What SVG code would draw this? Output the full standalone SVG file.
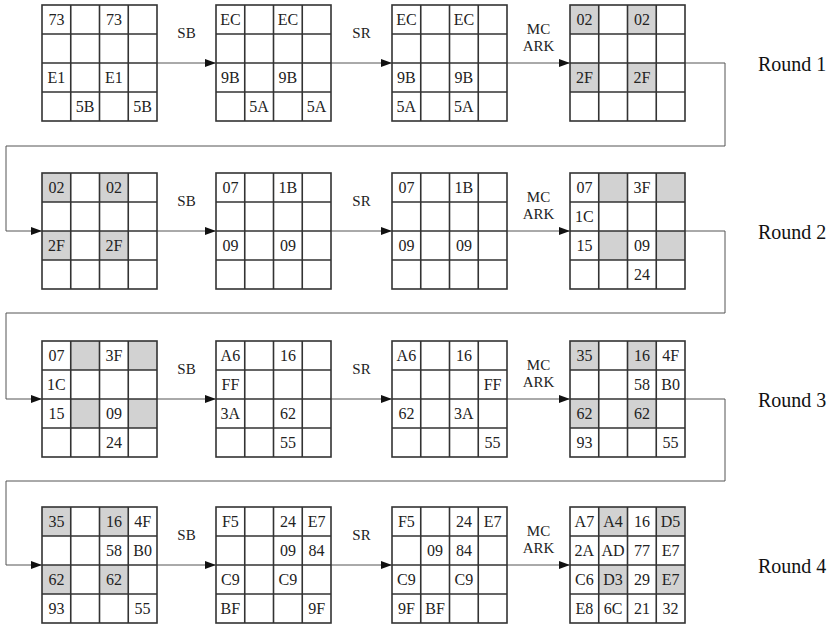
<svg xmlns="http://www.w3.org/2000/svg" xmlns:xlink="http://www.w3.org/1999/xlink" width="832" height="625" viewBox="0 0 832 625" font-family="'Liberation Serif', 'DejaVu Serif', serif">
<style>
text{font-family:'Liberation Serif','DejaVu Serif',serif}
.c{font-size:16px;fill:#222;text-anchor:middle}
.lbl{font-size:15px;fill:#222;text-anchor:middle}
.rnd{font-size:20px;fill:#111}
.g{fill:#d2d2d2}
.ln{fill:none;stroke:#555;stroke-width:1}
</style>
<defs>
<marker id="ah" markerWidth="11" markerHeight="8" refX="11" refY="4" orient="auto" markerUnits="userSpaceOnUse">
<path d="M0,0 L11,4 L0,8 Z" fill="#111"/>
</marker>
<g id="grid" fill="none" stroke="#333" stroke-width="1.6">
<rect x="0" y="0" width="115" height="116"/>
<path d="M28.75,0V116M57.5,0V116M86.25,0V116M0,29H115M0,58H115M0,87H115"/>
</g>
</defs>
<rect width="832" height="625" fill="#fff"/>

<g id="connectors">
<line class="ln" x1="157" y1="63" x2="216" y2="63" marker-end="url(#ah)"/>
<line class="ln" x1="331" y1="63" x2="392" y2="63" marker-end="url(#ah)"/>
<line class="ln" x1="507" y1="63" x2="570" y2="63" marker-end="url(#ah)"/>
<path class="ln" d="M685,63H725V146H6V231H42" marker-end="url(#ah)"/>
<line class="ln" x1="157" y1="231" x2="216" y2="231" marker-end="url(#ah)"/>
<line class="ln" x1="331" y1="231" x2="392" y2="231" marker-end="url(#ah)"/>
<line class="ln" x1="507" y1="231" x2="570" y2="231" marker-end="url(#ah)"/>
<path class="ln" d="M685,231H725V313H6V399H42" marker-end="url(#ah)"/>
<line class="ln" x1="157" y1="399" x2="216" y2="399" marker-end="url(#ah)"/>
<line class="ln" x1="331" y1="399" x2="392" y2="399" marker-end="url(#ah)"/>
<line class="ln" x1="507" y1="399" x2="570" y2="399" marker-end="url(#ah)"/>
<path class="ln" d="M685,399H725V481H6V565H42" marker-end="url(#ah)"/>
<line class="ln" x1="157" y1="565" x2="216" y2="565" marker-end="url(#ah)"/>
<line class="ln" x1="331" y1="565" x2="392" y2="565" marker-end="url(#ah)"/>
<line class="ln" x1="507" y1="565" x2="570" y2="565" marker-end="url(#ah)"/>
</g>

<g id="labels">
<text class="lbl" x="186.5" y="38">SB</text>
<text class="lbl" x="361.5" y="38">SR</text>
<text class="lbl" x="538.5" y="34">MC</text>
<text class="lbl" x="538.5" y="51">ARK</text>
<text class="lbl" x="186.5" y="206">SB</text>
<text class="lbl" x="361.5" y="206">SR</text>
<text class="lbl" x="538.5" y="202">MC</text>
<text class="lbl" x="538.5" y="219">ARK</text>
<text class="lbl" x="186.5" y="374">SB</text>
<text class="lbl" x="361.5" y="374">SR</text>
<text class="lbl" x="538.5" y="370">MC</text>
<text class="lbl" x="538.5" y="387">ARK</text>
<text class="lbl" x="186.5" y="540">SB</text>
<text class="lbl" x="361.5" y="540">SR</text>
<text class="lbl" x="538.5" y="536">MC</text>
<text class="lbl" x="538.5" y="553">ARK</text>
<text class="rnd" x="758" y="71">Round 1</text>
<text class="rnd" x="758" y="239">Round 2</text>
<text class="rnd" x="758" y="407">Round 3</text>
<text class="rnd" x="758" y="573">Round 4</text>
</g>

<!-- Round 1 -->
<g id="r1s1" transform="translate(42,5)">
<use xlink:href="#grid"/>
<text class="c" x="14.4" y="19.5">73</text><text class="c" x="71.9" y="19.5">73</text>
<text class="c" x="14.4" y="77.5">E1</text><text class="c" x="71.9" y="77.5">E1</text>
<text class="c" x="43.1" y="106.5">5B</text><text class="c" x="100.6" y="106.5">5B</text>
</g>
<g id="r1s2" transform="translate(216,5)">
<use xlink:href="#grid"/>
<text class="c" x="14.4" y="19.5">EC</text><text class="c" x="71.9" y="19.5">EC</text>
<text class="c" x="14.4" y="77.5">9B</text><text class="c" x="71.9" y="77.5">9B</text>
<text class="c" x="43.1" y="106.5">5A</text><text class="c" x="100.6" y="106.5">5A</text>
</g>
<g id="r1s3" transform="translate(392,5)">
<use xlink:href="#grid"/>
<text class="c" x="14.4" y="19.5">EC</text><text class="c" x="71.9" y="19.5">EC</text>
<text class="c" x="14.4" y="77.5">9B</text><text class="c" x="71.9" y="77.5">9B</text>
<text class="c" x="14.4" y="106.5">5A</text><text class="c" x="71.9" y="106.5">5A</text>
</g>
<g id="r1s4" transform="translate(570,5)">
<rect class="g" x="0" y="0" width="28.75" height="29"/><rect class="g" x="57.5" y="0" width="28.75" height="29"/>
<rect class="g" x="0" y="58" width="28.75" height="29"/><rect class="g" x="57.5" y="58" width="28.75" height="29"/>
<use xlink:href="#grid"/>
<text class="c" x="14.4" y="19.5">02</text><text class="c" x="71.9" y="19.5">02</text>
<text class="c" x="14.4" y="77.5">2F</text><text class="c" x="71.9" y="77.5">2F</text>
</g>

<!-- Round 2 -->
<g id="r2s1" transform="translate(42,173)">
<rect class="g" x="0" y="0" width="28.75" height="29"/><rect class="g" x="57.5" y="0" width="28.75" height="29"/>
<rect class="g" x="0" y="58" width="28.75" height="29"/><rect class="g" x="57.5" y="58" width="28.75" height="29"/>
<use xlink:href="#grid"/>
<text class="c" x="14.4" y="19.5">02</text><text class="c" x="71.9" y="19.5">02</text>
<text class="c" x="14.4" y="77.5">2F</text><text class="c" x="71.9" y="77.5">2F</text>
</g>
<g id="r2s2" transform="translate(216,173)">
<use xlink:href="#grid"/>
<text class="c" x="14.4" y="19.5">07</text><text class="c" x="71.9" y="19.5">1B</text>
<text class="c" x="14.4" y="77.5">09</text><text class="c" x="71.9" y="77.5">09</text>
</g>
<g id="r2s3" transform="translate(392,173)">
<use xlink:href="#grid"/>
<text class="c" x="14.4" y="19.5">07</text><text class="c" x="71.9" y="19.5">1B</text>
<text class="c" x="14.4" y="77.5">09</text><text class="c" x="71.9" y="77.5">09</text>
</g>
<g id="r2s4" transform="translate(570,173)">
<rect class="g" x="28.75" y="0" width="28.75" height="29"/><rect class="g" x="86.25" y="0" width="28.75" height="29"/>
<rect class="g" x="28.75" y="58" width="28.75" height="29"/><rect class="g" x="86.25" y="58" width="28.75" height="29"/>
<use xlink:href="#grid"/>
<text class="c" x="14.4" y="19.5">07</text><text class="c" x="71.9" y="19.5">3F</text>
<text class="c" x="14.4" y="48.5">1C</text>
<text class="c" x="14.4" y="77.5">15</text><text class="c" x="71.9" y="77.5">09</text>
<text class="c" x="71.9" y="106.5">24</text>
</g>

<!-- Round 3 -->
<g id="r3s1" transform="translate(42,341)">
<rect class="g" x="28.75" y="0" width="28.75" height="29"/><rect class="g" x="86.25" y="0" width="28.75" height="29"/>
<rect class="g" x="28.75" y="58" width="28.75" height="29"/><rect class="g" x="86.25" y="58" width="28.75" height="29"/>
<use xlink:href="#grid"/>
<text class="c" x="14.4" y="19.5">07</text><text class="c" x="71.9" y="19.5">3F</text>
<text class="c" x="14.4" y="48.5">1C</text>
<text class="c" x="14.4" y="77.5">15</text><text class="c" x="71.9" y="77.5">09</text>
<text class="c" x="71.9" y="106.5">24</text>
</g>
<g id="r3s2" transform="translate(216,341)">
<use xlink:href="#grid"/>
<text class="c" x="14.4" y="19.5">A6</text><text class="c" x="71.9" y="19.5">16</text>
<text class="c" x="14.4" y="48.5">FF</text>
<text class="c" x="14.4" y="77.5">3A</text><text class="c" x="71.9" y="77.5">62</text>
<text class="c" x="71.9" y="106.5">55</text>
</g>
<g id="r3s3" transform="translate(392,341)">
<use xlink:href="#grid"/>
<text class="c" x="14.4" y="19.5">A6</text><text class="c" x="71.9" y="19.5">16</text>
<text class="c" x="100.6" y="48.5">FF</text>
<text class="c" x="14.4" y="77.5">62</text><text class="c" x="71.9" y="77.5">3A</text>
<text class="c" x="100.6" y="106.5">55</text>
</g>
<g id="r3s4" transform="translate(570,341)">
<rect class="g" x="0" y="0" width="28.75" height="29"/><rect class="g" x="57.5" y="0" width="28.75" height="29"/>
<rect class="g" x="0" y="58" width="28.75" height="29"/><rect class="g" x="57.5" y="58" width="28.75" height="29"/>
<use xlink:href="#grid"/>
<text class="c" x="14.4" y="19.5">35</text><text class="c" x="71.9" y="19.5">16</text><text class="c" x="100.6" y="19.5">4F</text>
<text class="c" x="71.9" y="48.5">58</text><text class="c" x="100.6" y="48.5">B0</text>
<text class="c" x="14.4" y="77.5">62</text><text class="c" x="71.9" y="77.5">62</text>
<text class="c" x="14.4" y="106.5">93</text><text class="c" x="100.6" y="106.5">55</text>
</g>

<!-- Round 4 -->
<g id="r4s1" transform="translate(42,507)">
<rect class="g" x="0" y="0" width="28.75" height="29"/><rect class="g" x="57.5" y="0" width="28.75" height="29"/>
<rect class="g" x="0" y="58" width="28.75" height="29"/><rect class="g" x="57.5" y="58" width="28.75" height="29"/>
<use xlink:href="#grid"/>
<text class="c" x="14.4" y="19.5">35</text><text class="c" x="71.9" y="19.5">16</text><text class="c" x="100.6" y="19.5">4F</text>
<text class="c" x="71.9" y="48.5">58</text><text class="c" x="100.6" y="48.5">B0</text>
<text class="c" x="14.4" y="77.5">62</text><text class="c" x="71.9" y="77.5">62</text>
<text class="c" x="14.4" y="106.5">93</text><text class="c" x="100.6" y="106.5">55</text>
</g>
<g id="r4s2" transform="translate(216,507)">
<use xlink:href="#grid"/>
<text class="c" x="14.4" y="19.5">F5</text><text class="c" x="71.9" y="19.5">24</text><text class="c" x="100.6" y="19.5">E7</text>
<text class="c" x="71.9" y="48.5">09</text><text class="c" x="100.6" y="48.5">84</text>
<text class="c" x="14.4" y="77.5">C9</text><text class="c" x="71.9" y="77.5">C9</text>
<text class="c" x="14.4" y="106.5">BF</text><text class="c" x="100.6" y="106.5">9F</text>
</g>
<g id="r4s3" transform="translate(392,507)">
<use xlink:href="#grid"/>
<text class="c" x="14.4" y="19.5">F5</text><text class="c" x="71.9" y="19.5">24</text><text class="c" x="100.6" y="19.5">E7</text>
<text class="c" x="43.1" y="48.5">09</text><text class="c" x="71.9" y="48.5">84</text>
<text class="c" x="14.4" y="77.5">C9</text><text class="c" x="71.9" y="77.5">C9</text>
<text class="c" x="14.4" y="106.5">9F</text><text class="c" x="43.1" y="106.5">BF</text>
</g>
<g id="r4s4" transform="translate(570,507)">
<rect class="g" x="28.75" y="0" width="28.75" height="29"/><rect class="g" x="86.25" y="0" width="28.75" height="29"/>
<rect class="g" x="28.75" y="58" width="28.75" height="29"/><rect class="g" x="86.25" y="58" width="28.75" height="29"/>
<use xlink:href="#grid"/>
<text class="c" x="14.4" y="19.5">A7</text><text class="c" x="43.1" y="19.5">A4</text><text class="c" x="71.9" y="19.5">16</text><text class="c" x="100.6" y="19.5">D5</text>
<text class="c" x="14.4" y="48.5">2A</text><text class="c" x="43.1" y="48.5">AD</text><text class="c" x="71.9" y="48.5">77</text><text class="c" x="100.6" y="48.5">E7</text>
<text class="c" x="14.4" y="77.5">C6</text><text class="c" x="43.1" y="77.5">D3</text><text class="c" x="71.9" y="77.5">29</text><text class="c" x="100.6" y="77.5">E7</text>
<text class="c" x="14.4" y="106.5">E8</text><text class="c" x="43.1" y="106.5">6C</text><text class="c" x="71.9" y="106.5">21</text><text class="c" x="100.6" y="106.5">32</text>
</g>
</svg>
